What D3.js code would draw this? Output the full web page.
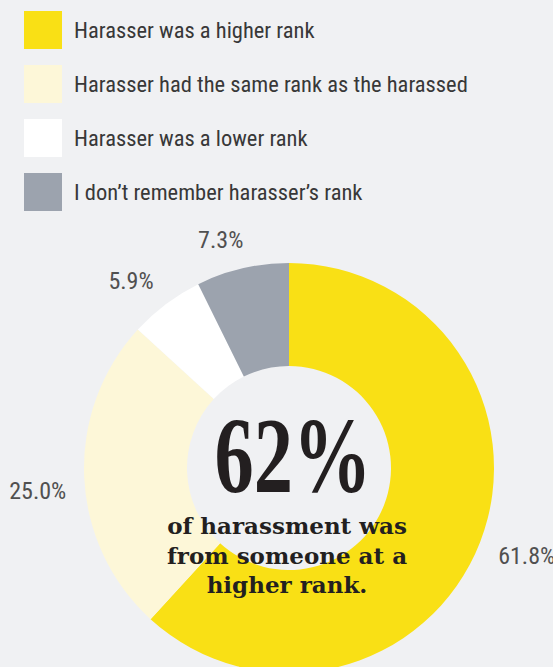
<!DOCTYPE html>
<html>
<head>
<meta charset="utf-8">
<script src="https://cdn.jsdelivr.net/npm/d3@7"></script>
<style>
  html, body { margin: 0; padding: 0; background: #f0f1f3; }
  svg { display: block; }
  .cond { font-family: 'Roboto', 'Open Sans', sans-serif; font-stretch: condensed; }
</style>
</head>
<body>
<svg id="chart" width="553" height="667"></svg>
<script>
// Harasser rank breakdown (percent of respondents)
const categories = [
  "Harasser was a higher rank",
  "Harasser had the same rank as the harassed",
  "Harasser was a lower rank",
  "I don\u2019t remember harasser\u2019s rank"
];
const values = [61.8, 25.0, 5.9, 7.3];
const colors = ["#f9e015", "#fdf7d8", "#ffffff", "#9ca3ae"];
const valueLabels = ["61.8%", "25.0%", "5.9%", "7.3%"];
const headline = "62%";
const subLines = ["of harassment was", "from someone at a", "higher rank."];

const svg = d3.select("#chart");
const W = 553, H = 667;
svg.append("rect").attr("width", W).attr("height", H).attr("fill", "#f0f1f3");

// Legend
const legend = svg.append("g").attr("transform", "translate(24,11)");
const item = legend.selectAll("g").data(categories).join("g")
  .attr("transform", (d, i) => `translate(0, ${i * 54})`);
item.append("rect").attr("width", 38).attr("height", 38)
  .attr("fill", (d, i) => colors[i]);
item.append("text")
  .attr("class", "cond")
  .attr("x", 50).attr("y", 19).attr("dy", "0.35em")
  .attr("font-size", 22.5)
  .attr("fill", "#383838")
  .text(d => d);

// Donut
const cx = 289, cy = 468, outerR = 205, innerR = 102;
const data = values.map((v, i) => ({ value: v, color: colors[i], label: valueLabels[i] }));
const pie = d3.pie().value(d => d.value).sort(null);
const arcs = pie(data);
const arc = d3.arc().innerRadius(innerR).outerRadius(outerR);

const g = svg.append("g").attr("transform", `translate(${cx},${cy})`);
g.selectAll("path").data(arcs).join("path")
  .attr("d", arc)
  .attr("fill", d => d.data.color);

// Value labels sit just outside the ring, pushed out by their own extent
const gap = 18;
g.selectAll("text.val").data(arcs).join("text")
  .attr("class", "val cond")
  .attr("text-anchor", "middle").attr("dy", "0.35em")
  .attr("font-size", 24)
  .attr("fill", "#505050")
  .text(d => d.data.label)
  .each(function (d) {
    const box = this.getBBox();
    const a = (d.startAngle + d.endAngle) / 2 * 0.99;
    const s = Math.sin(a), c = Math.cos(a);
    const r = outerR + gap + Math.abs(s) * box.width / 2 + Math.abs(c) * box.height * 0.35;
    d3.select(this).attr("transform", `translate(${r * s},${-r * c})`);
  });

// Center callout
g.append("text")
  .attr("x", 4).attr("y", 24)
  .attr("text-anchor", "middle")
  .attr("font-family", "'Liberation Serif', 'DejaVu Serif', serif")
  .attr("font-weight", "bold").attr("font-size", 108)
  .attr("textLength", 157).attr("lengthAdjust", "spacingAndGlyphs")
  .attr("fill", "#231f20")
  .text(headline);

g.selectAll("text.sub").data(subLines).join("text")
  .attr("class", "sub")
  .attr("x", -2).attr("y", (d, i) => 66 + i * 29.5)
  .attr("text-anchor", "middle")
  .attr("font-family", "'DejaVu Serif', serif")
  .attr("font-weight", "bold").attr("font-size", 23)
  .attr("fill", "#231f20")
  .text(d => d);
</script>
</body>
</html>
